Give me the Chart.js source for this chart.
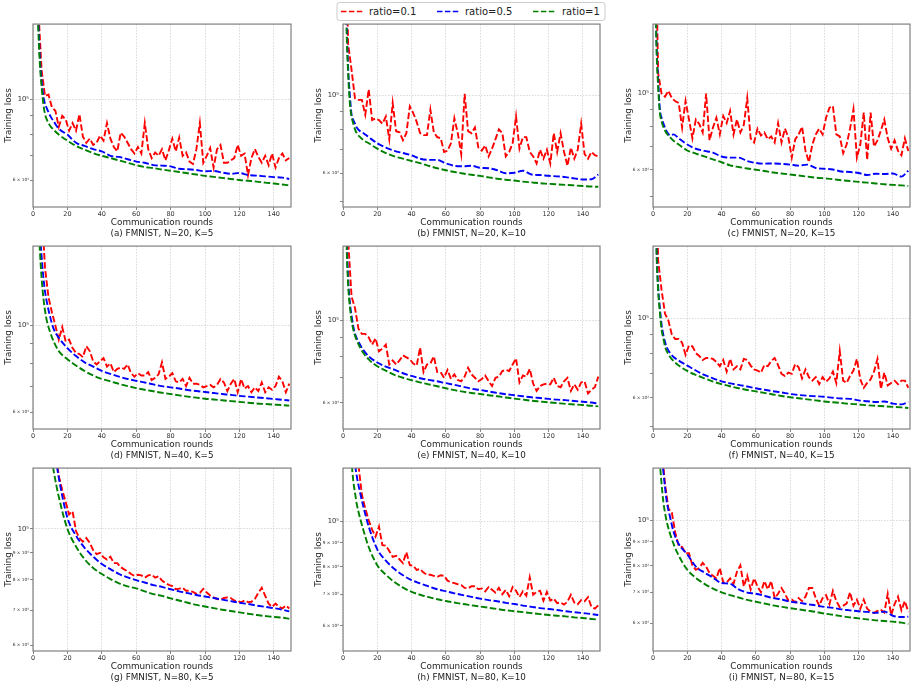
<!DOCTYPE html>
<html><head><meta charset="utf-8">
<script src="https://cdn.jsdelivr.net/npm/chart.js@4.4.1/dist/chart.umd.min.js"></script>
<style>
html,body{margin:0;padding:0;background:#fff;width:914px;height:685px;overflow:hidden;font-family:"DejaVu Sans",sans-serif;}
canvas{position:absolute;}
#legend{position:absolute;left:0;top:0;}
</style></head><body>
<svg id="legend" width="914" height="24" xmlns="http://www.w3.org/2000/svg">
  <rect x="337" y="2.5" width="268" height="18" rx="2.5" ry="2.5" fill="#ffffff" stroke="#cccccc" stroke-width="1"/>
  <line x1="341" y1="11.5" x2="363" y2="11.5" stroke="#ff0000" stroke-width="1.6" stroke-dasharray="5.5 2.4"/>
  <text x="369" y="15.3" font-family="DejaVu Sans" font-size="10" fill="#222">ratio=0.1</text>
  <line x1="437" y1="11.5" x2="459" y2="11.5" stroke="#0000ff" stroke-width="1.6" stroke-dasharray="5.5 2.4"/>
  <text x="465" y="15.3" font-family="DejaVu Sans" font-size="10" fill="#222">ratio=0.5</text>
  <line x1="533" y1="11.5" x2="555" y2="11.5" stroke="#008000" stroke-width="1.6" stroke-dasharray="5.5 2.4"/>
  <text x="562" y="15.3" font-family="DejaVu Sans" font-size="10" fill="#222">ratio=1</text>
</svg>
<script>
// ---------------- data (training loss in units of 10^4) ----------------
const SERIES_NAMES = ['ratio=0.1', 'ratio=0.5', 'ratio=1'];
const ROUNDS_RED = [1,3,5,7,9,11,13,15,17,19,21,23,25,27,29,31,33,35,37,39,41,43,45,47,49,51,53,55,57,59,61,63,65,67,69,71,73,75,77,79,81,83,85,87,89,91,93,95,97,99,101,103,105,107,109,111,113,115,117,119,121,123,125,127,129,131,133,135,137,139,141,143,145,147,149];
const ROUNDS_SMOOTH = [1,2,3,4,5,6,7,8,10,12,15,20,25,30,35,40,45,50,55,60,65,70,75,80,85,90,95,100,105,110,115,120,125,130,135,140,145,149];
const X_TICKS = [0,20,40,60,80,100,120,140];
const Y_TICKS = [5,6,7,8,9,10];
const Y_TICK_TEXT = ['5 × 10⁴','6 × 10⁴','7 × 10⁴','8 × 10⁴','9 × 10⁴','10⁵'];
const PANEL_TITLES = ['(a) FMNIST, N=20, K=5','(b) FMNIST, N=20, K=10','(c) FMNIST, N=20, K=15',
                      '(d) FMNIST, N=40, K=5','(e) FMNIST, N=40, K=10','(f) FMNIST, N=40, K=15',
                      '(g) FMNIST, N=80, K=5','(h) FMNIST, N=80, K=10','(i) FMNIST, N=80, K=15'];
const Y_MIN = [5.07,4.81,4.66,5.44,5.09,4.91,5.85,5.33,5.23];
const Y_MAX = [16.05,15.94,15.98,15.94,15.88,15.9,13.05,12.98,12.97];
const LABEL_ALL_TICKS = [false,false,false,false,false,false,true,true,true];

const A_R01 = [40,18,12,10.2,10.3,9.5,9.3,8.4,9.0,8.8, 8.2,8.6,8.2,9.1,7.9,7.6,7.8,7.5,7.6,7.95, 7.7,8.6,7.8,7.4,7.2,8.1,7.9,7.6,7.3,7.1, 7.4,7.1,8.6,7.3,6.9,7.15,7.0,7.3,6.8,7.25, 7.8,7.2,7.85,7.0,7.15,6.75,6.65,7.3,8.6,6.7, 7.0,7.35,6.5,7.3,7.5,6.7,6.7,6.8,6.9,7.5, 7.0,7.1,6.2,6.9,7.3,6.95,6.7,7.0,6.6,7.1, 6.5,6.9,7.1,6.8,6.9];
const A_R05 = [40,26,17,13,11.2,10.2,9.7,9.45, 9.0,8.7,8.3, 8.0,7.6,7.45,7.3,7.2,7.0,6.95,6.85,6.75,6.7, 6.6,6.58,6.55,6.45,6.43,6.4,6.35,6.36,6.3,6.25, 6.28,6.2,6.18,6.15,6.12,6.1, 6.05];
const A_R1  = [40,25,16,12.5,10.8,9.7,9.1,8.8, 8.45,8.25,8.0, 7.7,7.45,7.28,7.12,7.0,6.9,6.8,6.7,6.6,6.52, 6.48,6.42,6.37,6.32,6.27,6.22,6.17,6.13,6.09,6.05, 6.01,5.98,5.95,5.91,5.88,5.84, 5.81];

const B_R01 = [40,14,11.8,9.8,9.7,9.7,8.8,10.4,8.5,8.6, 8.5,8.3,8.7,7.5,9.5,7.9,7.85,7.45,7.8,9.3, 8.9,8.4,7.8,7.7,7.7,9.1,7.85,7.6,7.55,6.9, 6.95,7.3,8.6,7.8,6.8,10.1,7.9,7.8,8.1,7.1, 6.96,7.2,6.7,7.05,7.5,8.0,7.8,6.7,6.9,7.3, 8.7,7.05,7.6,7.6,6.9,6.7,6.4,7.0,6.6,7.0, 6.4,7.8,6.9,7.8,6.9,6.3,7.1,6.6,7.0,8.3, 6.8,6.6,6.9,6.75,6.7];
const B_R05 = [30,17,12,10,8.8,8.5,8.3,8.1, 7.9,7.8,7.6, 7.3,7.1,6.95,6.85,6.75,6.6,6.55,6.55,6.4,6.3, 6.28,6.3,6.22,6.2,6.12,6.0,6.02,6.1,5.95,5.93, 5.9,5.88,5.85,5.8,5.76,5.77, 5.95];
const B_R1  = [30,16,11.5,9.5,8.7,8.3,8.0,7.8, 7.6,7.45,7.3, 7.05,6.85,6.7,6.6,6.5,6.41,6.3,6.2,6.12,6.05, 5.99,5.94,5.9,5.84,5.79,5.75,5.72,5.68,5.65,5.62, 5.6,5.58,5.56,5.54,5.52,5.5, 5.49];

const C_R01 = [40,11.5,10.0,9.8,10.2,9.7,9.5,9.4,7.96,9.52, 8.4,7.4,8.4,8.15,7.7,10.0,7.3,7.96,8.5,7.6, 8.6,8.2,8.9,7.6,8.4,7.7,8.1,9.7,7.4,7.2, 7.9,7.55,7.7,7.35,7.5,7.2,8.2,7.2,7.9,7.45, 6.5,7.35,7.6,8.0,6.8,6.3,7.1,7.6,7.9,7.6, 8.5,9.1,9.2,7.6,7.5,6.7,7.1,7.9,9.0,6.5, 7.1,8.8,6.4,8.8,7.0,7.3,7.8,8.4,7.4,6.9, 7.3,6.8,6.6,7.4,6.8];
const C_R05 = [30,14.5,11,9.0,8.5,8.2,7.95,7.75, 7.55,7.6,7.4, 7.1,6.9,6.8,6.72,6.55,6.5,6.5,6.35,6.27,6.24, 6.25,6.23,6.2,6.16,6.2,6.06,6.03,6.0,5.92,5.9, 5.86,5.78,5.83,5.82,5.84,5.72, 5.95];
const C_R1  = [30,14,10.5,8.8,8.3,8.0,7.8,7.65, 7.45,7.28,7.1, 6.82,6.68,6.55,6.42,6.3,6.17,6.1,6.04,5.99,5.94, 5.88,5.84,5.8,5.76,5.72,5.68,5.65,5.62,5.58,5.55, 5.52,5.49,5.46,5.43,5.41,5.39, 5.37];

const D_R01 = [40,30,20,14,11.8,10.8,10.0,9.2,9.9,9.1, 9.2,8.75,8.5,8.45,8.3,8.85,8.6,8.1,7.95,8.1, 8.25,7.85,8.0,7.6,7.75,7.8,7.75,7.95,7.55,7.4, 7.55,7.45,7.45,7.6,7.25,7.35,7.5,8.05,7.3,7.4, 7.55,7.2,7.15,7.3,7.0,7.35,7.1,7.1,7.05,6.95, 7.0,7.05,6.95,7.05,7.3,7.15,6.8,7.1,7.3,6.75, 7.3,6.9,7.0,6.75,6.95,6.8,7.15,6.75,6.95,6.85, 7.0,7.4,7.2,6.75,7.1];
const D_R05 = [40,30,22,17.5,15,13.3,12.2,11.5, 10.5,9.8,9.3, 8.75,8.35,8.05,7.85,7.65,7.52,7.4,7.3,7.22,7.15, 7.07,7.0,6.95,6.9,6.84,6.8,6.76,6.72,6.68,6.65, 6.61,6.58,6.55,6.52,6.49,6.46, 6.43];
const D_R1  = [40,26,19,15.5,13.2,11.8,10.9,10.3, 9.6,9.1,8.6, 8.2,7.9,7.65,7.45,7.3,7.2,7.09,7.0,6.92,6.85, 6.79,6.73,6.68,6.63,6.58,6.54,6.5,6.47,6.44,6.41, 6.38,6.35,6.32,6.3,6.28,6.26, 6.24];

const E_R01 = [40,16.5,11.6,10.8,9.5,9.2,9.2,9.0,8.6,8.95, 8.25,8.4,8.6,7.6,7.8,7.6,7.8,8.05,7.95,7.85, 7.65,7.55,8.45,7.25,7.6,7.65,8.0,7.25,7.25,7.0, 7.35,6.95,7.15,6.9,6.85,7.05,7.45,7.15,7.0,6.85, 6.95,7.1,6.85,6.65,7.0,7.05,7.3,7.35,7.3,7.6, 7.9,6.8,7.1,7.05,7.4,6.75,6.45,6.65,6.72,6.75, 6.72,7.0,6.65,6.6,6.85,7.0,6.45,6.72,6.5,6.8, 6.85,6.35,6.5,6.6,7.05];
const E_R05 = [40,18,13,11.2,10.3,9.65,9.2,8.95, 8.6,8.3,8.0, 7.7,7.5,7.36,7.2,7.08,6.98,6.91,6.85,6.77,6.7, 6.62,6.54,6.49,6.43,6.37,6.32,6.28,6.24,6.2,6.17, 6.14,6.11,6.09,6.06,6.03,6.0, 5.96];
const E_R1  = [40,17,12.5,10.9,10.0,9.45,9.1,8.85, 8.45,8.15,7.85, 7.52,7.32,7.13,7.0,6.9,6.8,6.72,6.64,6.56,6.48, 6.42,6.37,6.33,6.28,6.24,6.19,6.15,6.11,6.07,6.04, 6.01,5.98,5.95,5.93,5.91,5.88, 5.86];

const F_R01 = [40,14.5,12.0,10.3,9.85,9.0,8.75,8.75,8.55,7.9, 8.4,8.35,8.0,7.85,7.65,7.75,7.75,7.7,7.55,7.35, 7.65,7.1,7.7,7.2,7.35,7.2,7.7,7.65,7.38,7.2, 7.15,7.05,7.4,7.35,7.6,7.75,7.4,7.0,6.9,7.05, 7.0,7.45,7.3,6.8,7.2,6.85,6.7,6.85,6.55,6.85, 6.65,6.8,7.1,6.6,8.1,6.7,6.6,6.9,7.15,7.7, 6.75,6.4,6.6,6.75,7.1,7.7,6.35,7.05,6.5,6.6, 6.7,6.55,6.7,6.7,6.4];
const F_R05 = [40,16.5,12.3,10.7,9.6,9.0,8.6,8.3, 8.0,7.8,7.62, 7.38,7.15,6.95,6.8,6.67,6.58,6.52,6.45,6.38,6.32, 6.26,6.21,6.15,6.11,6.08,6.06,6.04,6.0,5.97,5.96, 5.9,5.87,5.84,5.86,5.78,5.75, 5.84];
const F_R1  = [40,16,12,10.4,9.3,8.8,8.35,8.1, 7.8,7.6,7.38, 7.13,6.95,6.8,6.66,6.55,6.46,6.38,6.31,6.25,6.19, 6.13,6.07,6.02,5.98,5.94,5.9,5.86,5.83,5.8,5.77, 5.75,5.72,5.7,5.68,5.66,5.64, 5.62];

const G_R01 = [40,34,28,23,20,17.5,14.2,12.6,11.85,11.25, 10.65,10.8,9.9,9.6,9.45,9.6,9.4,9.1,8.95,9.0, 8.82,8.74,8.85,8.6,8.6,8.45,8.37,8.3,8.2,8.13, 8.17,8.15,8.07,8.15,8.18,8.07,8.12,7.97,7.88,7.82, 7.78,7.67,7.69,7.72,7.62,7.62,7.58,7.52,7.55,7.68, 7.56,7.46,7.4,7.35,7.33,7.38,7.4,7.38,7.3,7.28, 7.24,7.3,7.25,7.26,7.35,7.55,7.72,7.45,7.2,7.1, 7.2,7.1,7.05,7.14,7.05];
const G_R05 = [40,36,31,27,24,22,20,18.5, 16,14.5,12.5, 10.5,9.7,9.2,8.85,8.57,8.38,8.2,8.08,7.98,7.9, 7.81,7.75,7.67,7.6,7.54,7.48,7.43,7.38,7.33,7.28, 7.23,7.19,7.14,7.1,7.06,7.01, 6.96];
const G_R1  = [40,34,29,25,22,20,18,16.5, 14.2,12.9,11.5, 10.0,9.25,8.75,8.42,8.2,8.02,7.87,7.77,7.7,7.6, 7.51,7.45,7.37,7.3,7.23,7.16,7.11,7.06,7.01,6.97, 6.93,6.89,6.85,6.82,6.79,6.77, 6.74];

const H_R01 = [40,32,24,17,13.2,11.4,10.65,10.05,9.6,9.28, 9.75,8.9,8.88,8.65,8.4,8.45,8.3,8.15,8.6,8.07, 8.05,7.88,7.92,7.78,7.7,7.7,7.66,7.62,7.68,7.66, 7.48,7.42,7.39,7.35,7.32,7.22,7.2,7.28,7.28,7.17, 7.2,7.1,7.25,7.15,7.05,7.22,7.0,7.15,6.93,7.25, 7.12,6.9,7.1,6.95,7.6,6.98,7.08,7.12,6.78,7.08, 6.78,6.85,6.7,6.72,6.65,6.75,6.98,6.72,6.66,6.8, 6.76,6.9,6.58,6.52,6.63];
const H_R05 = [40,32,25,20,17,14.8,13.3,12.5, 11.5,10.7,9.75, 8.72,8.25,7.92,7.68,7.5,7.38,7.27,7.17,7.1,7.03, 6.97,6.91,6.85,6.8,6.76,6.71,6.67,6.62,6.58,6.54, 6.51,6.48,6.44,6.41,6.38,6.35, 6.32];
const H_R1  = [40,28,21,16.5,13.5,12.2,11.5,10.9, 10.15,9.55,8.82, 8.07,7.7,7.43,7.23,7.08,6.98,6.9,6.83,6.77,6.72, 6.67,6.63,6.59,6.55,6.51,6.47,6.44,6.41,6.38,6.35, 6.32,6.3,6.28,6.25,6.23,6.2, 6.18];

const I_R01 = [40,22,14.5,12.0,10.6,10.4,9.41,8.81,8.76,8.5, 8.5,8.0,7.83,7.9,8.1,7.95,7.7,7.6,7.5,7.9, 7.35,7.35,7.5,7.3,7.75,8.0,7.2,7.6,7.1,7.5, 7.2,7.0,7.4,7.1,7.4,6.8,6.95,7.15,6.95,6.72, 6.75,6.66,6.8,6.7,6.85,7.15,7.15,6.8,6.55,6.8, 6.9,6.6,7.05,6.7,6.5,6.55,6.62,7.0,6.55,6.75, 6.45,6.75,6.45,6.36,6.32,6.38,6.42,6.33,6.95,6.25, 6.6,6.85,6.4,6.7,6.35];
const I_R05 = [40,30,22,17,14,12.8,11.8,11.0, 10.15,9.45,8.9, 8.45,7.95,7.72,7.53,7.33,7.3,7.1,6.99,6.95,6.88, 6.8,6.76,6.68,6.65,6.6,6.56,6.51,6.48,6.43,6.4, 6.37,6.35,6.32,6.36,6.23,6.19, 6.2];
const I_R1  = [40,25,17,13.5,12.0,11.0,10.4,9.95, 9.35,8.9,8.4, 7.83,7.52,7.3,7.13,7.0,6.9,6.82,6.74,6.68,6.62, 6.56,6.51,6.47,6.43,6.39,6.35,6.3,6.26,6.22,6.18, 6.15,6.12,6.09,6.07,6.05,6.02, 5.98];

const PANEL_DATA = [
  [A_R01, A_R05, A_R1], [B_R01, B_R05, B_R1], [C_R01, C_R05, C_R1],
  [D_R01, D_R05, D_R1], [E_R01, E_R05, E_R1], [F_R01, F_R05, F_R1],
  [G_R01, G_R05, G_R1], [H_R01, H_R05, H_R1], [I_R01, I_R05, I_R1]
];

// ---------------- layout & style ----------------
const FONT = 'DejaVu Sans';
const COLS = [{left:0, width:293, padR:2}, {left:310, width:292, padR:2}, {left:620, width:293, padR:3}];
const ROW_TOPS = [19, 241, 463];
const PAD_TOP = 4, PLOT_H = 184, Y_AXIS_W = 33, X_AXIS_H = 32;
const COLORS = ['#ff0000', '#0000ff', '#008000'];
const DASH = [6.5, 2.6];
const LINE_W = 1.9;
const GRID = '#cfcfcf';

Chart.defaults.font.family = FONT;

const framePlugin = {
  id: 'frame',
  afterDatasetsDraw(chart) {
    const a = chart.chartArea, ctx = chart.ctx;
    ctx.save();
    ctx.strokeStyle = '#808080';
    ctx.lineWidth = 1.2;
    ctx.strokeRect(a.left, a.top, a.right - a.left, a.bottom - a.top);
    ctx.restore();
  }
};

PANEL_DATA.forEach((series, k) => {
  const col = COLS[k % 3];
  const top = ROW_TOPS[Math.floor(k / 3)];
  const cv = document.createElement('canvas');
  cv.width = col.width;
  cv.height = PAD_TOP + PLOT_H + X_AXIS_H;
  cv.style.left = col.left + 'px';
  cv.style.top = top + 'px';
  document.body.appendChild(cv);

  const ymin = Y_MIN[k], ymax = Y_MAX[k];
  const datasets = series.map((vals, s) => {
    const xs = s === 0 ? ROUNDS_RED : ROUNDS_SMOOTH;
    return {
      label: SERIES_NAMES[s],
      data: xs.map((x, i) => ({x: x, y: vals[i]})),
      borderColor: COLORS[s],
      backgroundColor: COLORS[s],
      borderWidth: LINE_W,
      borderDash: DASH,
      pointRadius: 0,
      fill: false,
      tension: 0,
      cubicInterpolationMode: s === 0 ? 'default' : 'monotone',
      clip: 0,
      order: 3 - s
    };
  });

  new Chart(cv, {
    type: 'line',
    data: {datasets},
    options: {
      responsive: false,
      animation: false,
      events: [],
      layout: {padding: {top: PAD_TOP, right: col.padR, bottom: 0, left: 0}},
      plugins: {legend: {display: false}, tooltip: {enabled: false}, title: {display: false}},
      scales: {
        x: {
          type: 'linear', min: 0, max: 150,
          afterBuildTicks: (s) => { s.ticks = X_TICKS.map(v => ({value: v})); },
          afterFit: (s) => { s.height = X_AXIS_H; },
          ticks: {font: {family: FONT, size: 6.5}, color: '#333', padding: 0, maxRotation: 0, autoSkip: false},
          grid: {color: GRID, lineWidth: 0.8, tickLength: 3, tickColor: '#666', tickWidth: 0.8},
          border: {display: false, dash: [1.5, 1.5]},
          title: {display: true, text: ['Communication rounds', PANEL_TITLES[k]],
                  font: {family: FONT, size: 8.8, lineHeight: 1.2}, color: '#222', padding: 0}
        },
        y: {
          type: 'logarithmic', min: ymin, max: ymax,
          afterBuildTicks: (s) => { s.ticks = Y_TICKS.filter(v => v >= ymin && v <= ymax).map(v => ({value: v})); },
          afterFit: (s) => { s.width = Y_AXIS_W; },
          ticks: {
            autoSkip: false, padding: 1, color: '#333',
            callback: (v) => {
              const idx = Y_TICKS.indexOf(v);
              if (v === 10 || v === 6 || (LABEL_ALL_TICKS[k] && v > 6)) return Y_TICK_TEXT[idx];
              return '';
            },
            font: (c) => ({family: FONT, size: (c.tick && c.tick.value === 10) ? 6.8 : 4.3})
          },
          grid: {
            color: (c) => (c.tick && c.tick.value === 10) ? GRID : 'rgba(0,0,0,0)',
            lineWidth: 0.8, tickLength: 3, tickColor: '#666', tickWidth: 0.8
          },
          border: {display: false, dash: [1.5, 1.5]},
          title: {display: true, text: 'Training loss', font: {family: FONT, size: 8.8}, color: '#222', padding: {top: 3, bottom: 0}}
        }
      }
    },
    plugins: [framePlugin]
  });
});
</script>
</body></html>
